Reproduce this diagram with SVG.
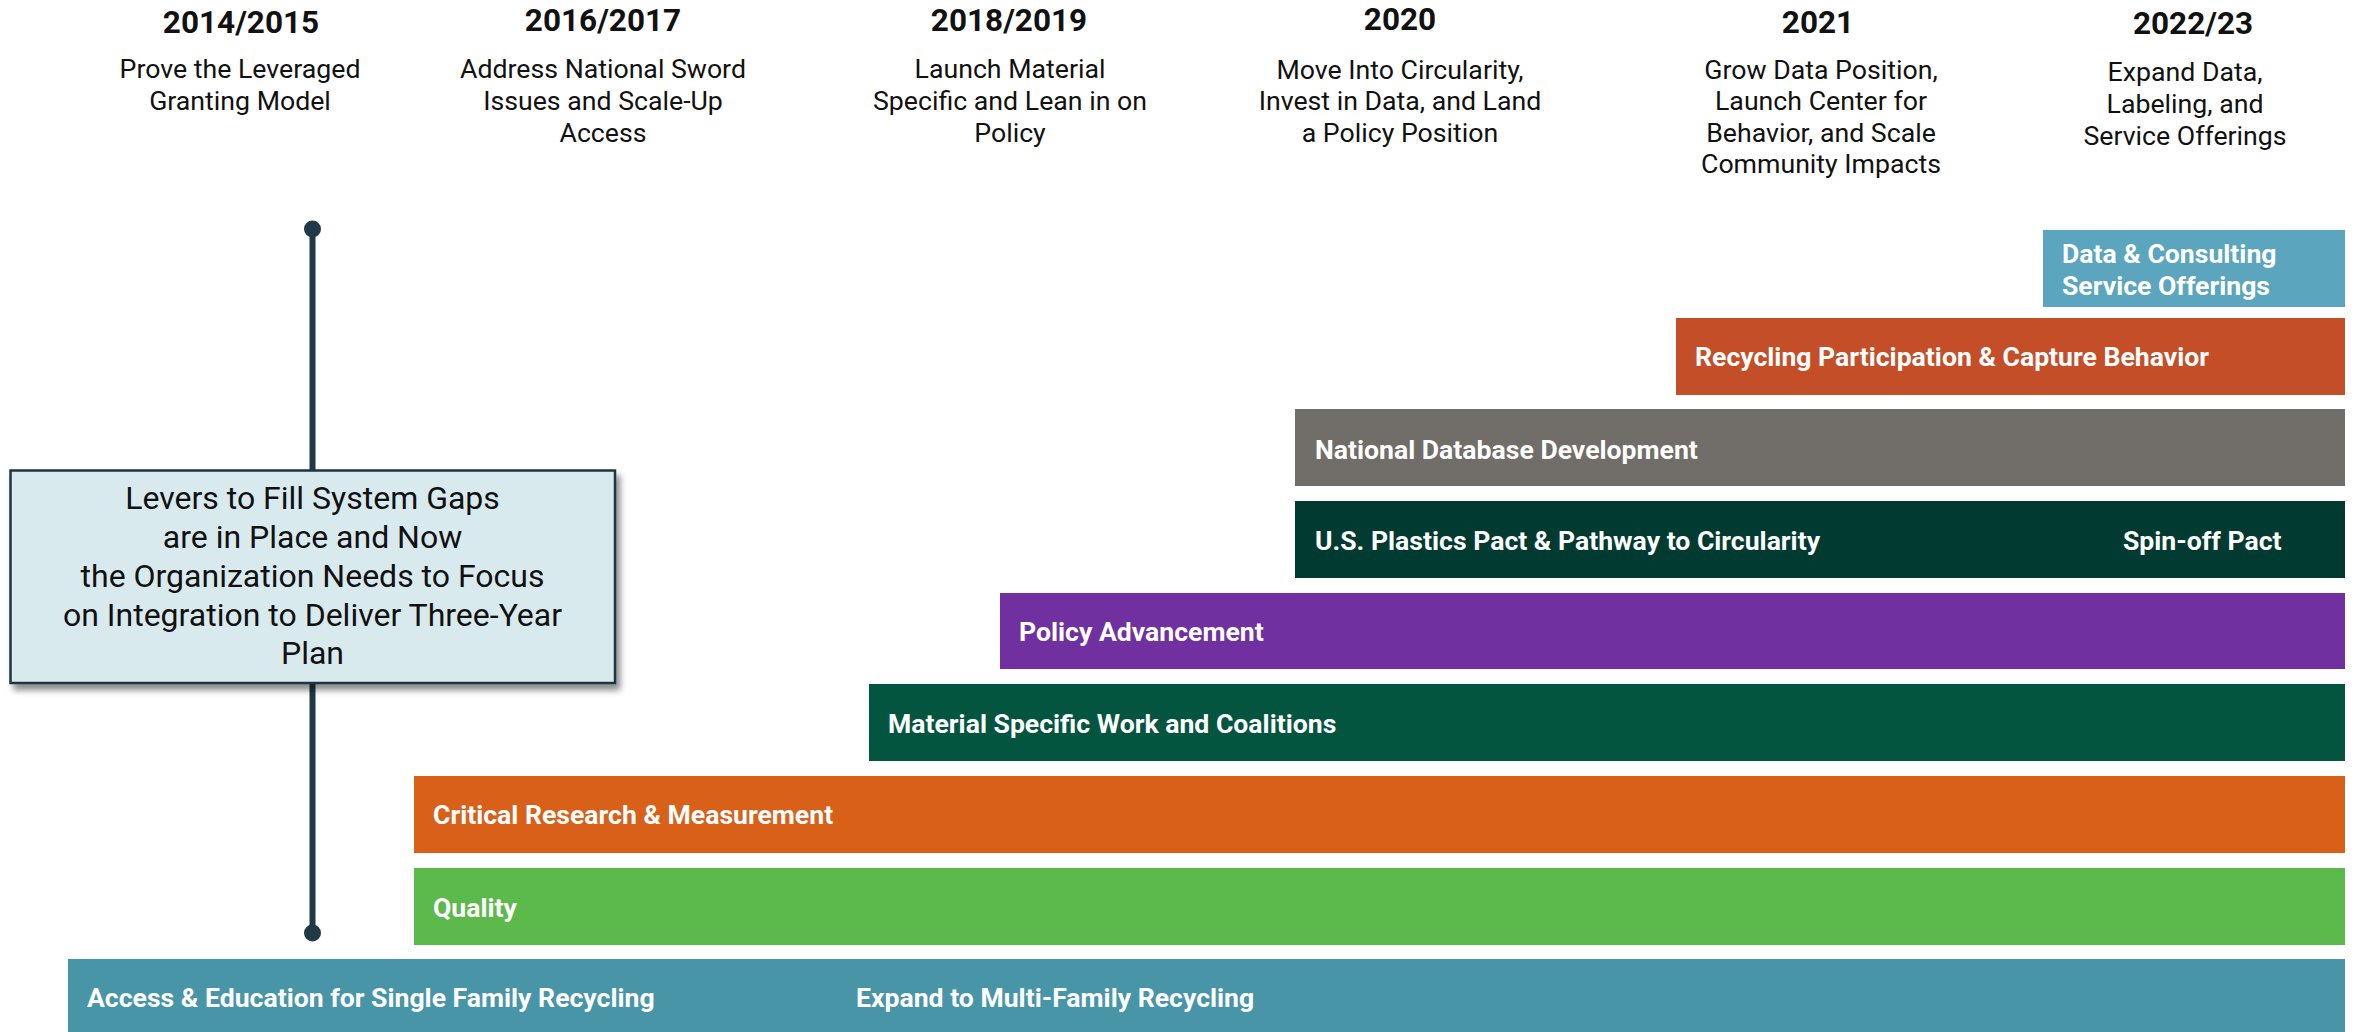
<svg xmlns="http://www.w3.org/2000/svg" width="2354" height="1032" viewBox="0 0 2354 1032">
<defs>
<style>
.yr{font-family:Roboto,"Liberation Sans",sans-serif;font-weight:700;font-size:31.5px;fill:#111;text-anchor:middle}
.ds{font-family:Roboto,"Liberation Sans",sans-serif;font-weight:400;font-size:26.7px;fill:#111;text-anchor:middle}
.bl{font-family:Roboto,"Liberation Sans",sans-serif;font-weight:700;font-size:26.6px;fill:#fff}
.bx{font-family:Roboto,"Liberation Sans",sans-serif;font-weight:400;font-size:32px;fill:#111;text-anchor:middle}
</style>
<filter id="sh" x="-10%" y="-10%" width="130%" height="130%">
<feDropShadow dx="4" dy="6" stdDeviation="3" flood-color="#000" flood-opacity="0.45"/>
</filter>
</defs>
<rect width="2354" height="1032" fill="#fff"/>

<g id="headers">
<g id="h2014"><text class="yr" x="241" y="33">2014/2015</text>
<text class="ds" x="240" y="78">Prove the Leveraged</text><text class="ds" x="240" y="110">Granting Model</text></g>
<g id="h2016"><text class="yr" x="603" y="31">2016/2017</text>
<text class="ds" x="603" y="78">Address National Sword</text><text class="ds" x="603" y="110">Issues and Scale-Up</text><text class="ds" x="603" y="142">Access</text></g>
<g id="h2018"><text class="yr" x="1009" y="31">2018/2019</text>
<text class="ds" x="1010" y="78">Launch Material</text><text class="ds" x="1010" y="110">Specific and Lean in on</text><text class="ds" x="1010" y="142">Policy</text></g>
<g id="h2020"><text class="yr" x="1400" y="30">2020</text>
<text class="ds" x="1400" y="79">Move Into Circularity,</text><text class="ds" x="1400" y="110">Invest in Data, and Land</text><text class="ds" x="1400" y="142">a Policy Position</text></g>
<g id="h2021"><text class="yr" x="1818" y="33">2021</text>
<text class="ds" x="1821" y="79">Grow Data Position,</text><text class="ds" x="1821" y="110">Launch Center for</text><text class="ds" x="1821" y="142">Behavior, and Scale</text><text class="ds" x="1821" y="173">Community Impacts</text></g>
<g id="h2022"><text class="yr" x="2193" y="34">2022/23</text>
<text class="ds" x="2185" y="81">Expand Data,</text><text class="ds" x="2185" y="113">Labeling, and</text><text class="ds" x="2185" y="145">Service Offerings</text></g>
</g>

<g id="connectors">
<line x1="312.5" y1="229" x2="312.5" y2="933" stroke="#1f3a46" stroke-width="6"/>
<circle cx="312.5" cy="229" r="8.5" fill="#1f3a46"/>
<circle cx="312.5" cy="933" r="8.5" fill="#1f3a46"/>
</g>

<g id="summary">
<rect x="10.5" y="470.5" width="604.5" height="212.5" fill="#d9eaee" stroke="#1d3640" stroke-width="2.5" filter="url(#sh)"/>
<text class="bx" x="312.5" y="509">Levers to Fill System Gaps</text>
<text class="bx" x="312.5" y="548">are in Place and Now</text>
<text class="bx" x="312.5" y="587">the Organization Needs to Focus</text>
<text class="bx" x="312.5" y="626">on Integration to Deliver Three-Year</text>
<text class="bx" x="312.5" y="664">Plan</text>
</g>

<g id="bar-data"><rect x="2043" y="230" width="302" height="77" fill="#5ba5bf"/>
<text class="bl" x="2062" y="263">Data &amp; Consulting</text><text class="bl" x="2062" y="295">Service Offerings</text></g>
<g id="bar-behavior"><rect x="1676" y="318" width="669" height="77" fill="#c44e28"/>
<text class="bl" x="1695" y="366">Recycling Participation &amp; Capture Behavior</text></g>
<g id="bar-database"><rect x="1295" y="409" width="1050" height="77" fill="#716d68"/>
<text class="bl" x="1315" y="459">National Database Development</text></g>
<g id="bar-pact"><rect x="1295" y="501" width="1050" height="77" fill="#013a31"/>
<text class="bl" x="1315" y="550">U.S. Plastics Pact &amp; Pathway to Circularity</text>
<text class="bl" x="2123" y="550">Spin-off Pact</text></g>
<g id="bar-policy"><rect x="1000" y="593" width="1345" height="76" fill="#7030a0"/>
<text class="bl" x="1019" y="641">Policy Advancement</text></g>
<g id="bar-material"><rect x="869" y="684" width="1476" height="77" fill="#03553f"/>
<text class="bl" x="888" y="733">Material Specific Work and Coalitions</text></g>
<g id="bar-research"><rect x="414" y="776" width="1931" height="77" fill="#d96019"/>
<text class="bl" x="433" y="824">Critical Research &amp; Measurement</text></g>
<g id="bar-quality"><rect x="414" y="868" width="1931" height="77" fill="#5cb94b"/>
<text class="bl" x="433" y="917">Quality</text></g>
<g id="bar-access"><rect x="68" y="959" width="2277" height="80" fill="#4895a8"/>
<text class="bl" x="87" y="1007">Access &amp; Education for Single Family Recycling</text>
<text class="bl" x="856" y="1007">Expand to Multi-Family Recycling</text></g>
</svg>
